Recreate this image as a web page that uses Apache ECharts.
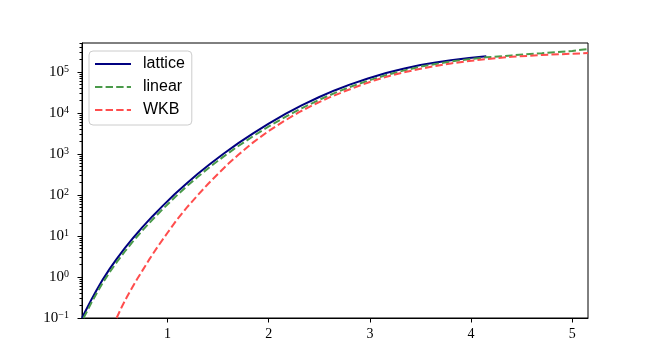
<!DOCTYPE html>
<html lang="en">
<head>
    <meta charset="UTF-8">
    <title>lattice vs linear vs WKB</title>
    <style>
        html, body {
            margin: 0;
            padding: 0;
            background: #ffffff;
        }
    </style>
</head>
<body>
<div id="chart-canvas" style="width: 654px;height:357px;"></div>
<script src="https://cdn.jsdelivr.net/npm/echarts@6/dist/echarts.min.js"></script>
<script type="text/javascript">
    // values
    const latticeX = [0.155, 0.2, 0.25, 0.3, 0.36, 0.43, 0.5, 0.58, 0.66, 0.75, 0.85, 0.95, 1.07, 1.18, 1.3, 1.42, 1.55,
        1.7, 1.85, 2.0, 2.17, 2.33, 2.5, 2.65, 2.8, 2.98, 3.16, 3.33, 3.5, 3.65, 3.8, 3.98, 4.15];
    const latticeY = [0.1, 0.166, 0.288, 0.484, 0.865, 1.60, 2.81, 5.11, 8.95, 16.2, 30.0, 53.6, 104, 183, 329, 571, 1000,
        1840, 3240, 5510, 9600, 15500, 24600, 35500, 49200, 69700, 94400, 120000, 148000, 171000, 194000, 219000, 242000];

    const linearX = [0.17, 0.2, 0.25, 0.3, 0.36, 0.43, 0.5, 0.58, 0.66, 0.75, 0.85, 0.95, 1.07, 1.18, 1.3, 1.42, 1.55,
        1.7, 1.85, 2.0, 2.17, 2.33, 2.5, 2.65, 2.8, 2.98, 3.16, 3.33, 3.5, 3.65, 3.8, 3.98, 4.15, 4.4, 4.7, 5.0, 5.155];
    const linearY = [0.1, 0.138, 0.24, 0.403, 0.719, 1.33, 2.33, 4.25, 7.45, 13.5, 24.9, 44.6, 87.1, 155, 279, 486, 853,
        1570, 2760, 4690, 8170, 13200, 21100, 30600, 42900, 61400, 84100, 108000, 135000, 157000, 180000, 206000, 228000,
        254000, 287000, 327000, 363000];

    const wkbX = [0.497, 0.55, 0.6, 0.65, 0.7, 0.75, 0.82, 0.9, 1.0, 1.1, 1.2, 1.3, 1.4, 1.5, 1.6, 1.7, 1.85, 2.0, 2.15,
        2.3, 2.45, 2.6, 2.75, 2.9, 3.05, 3.2, 3.35, 3.5, 3.65, 3.8, 3.98, 4.15, 4.4, 4.7, 5.0, 5.155];
    const wkbY = [0.1, 0.191, 0.331, 0.55, 0.891, 1.41, 2.69, 5.37, 12.0, 26.3, 52.5, 100, 186, 331, 575, 955, 1950, 3630,
        6310, 10500, 16200, 24000, 33900, 46800, 63100, 81300, 100000, 120000, 141000, 162000, 186000, 207000, 234000,
        260000, 279000, 290000];

    const xTicks = [1, 2, 3, 4, 5];
    const yTicks = [0.1, 1, 10, 100, 1000, 10000, 100000];
    const yTickExp = ['−1', '0', '1', '2', '3', '4', '5'];
    const yMinorTicks = [];
    yTicks.forEach(t => {
        for (let k = 2; k <= 9; k++) yMinorTicks.push(t * k);
    });

    const seriesSetting = {
        names: ['lattice', 'linear', 'WKB'],
        colorList: ['#000080', '#4a9a4a', '#ff4d4d'],
        types: ['solid', [7.4, 3.2], [7.4, 3.2]],
    };

    const pairs = (xs, ys) => xs.map((x, i) => [x, ys[i]]);
    const allData = [pairs(latticeX, latticeY), pairs(linearX, linearY), pairs(wkbX, wkbY)];

    const serif = '"Liberation Serif", "DejaVu Serif", serif';

    let myChart = echarts.init(document.getElementById('chart-canvas'), null, {renderer: 'canvas'});
    myChart.setOption({
        animation: false,
        backgroundColor: '#ffffff',
        grid: {
            left: 82, right: 66, top: 43, bottom: 39,
            show: true, borderColor: '#000000', borderWidth: 1,
            backgroundColor: 'transparent'
        },
        legend: {
            data: seriesSetting.names,
            orient: 'vertical',
            left: 89, top: 51,
            itemWidth: 36, itemHeight: 16, itemGap: 7,
            padding: [5, 7, 7, 5],
            borderColor: '#cccccc', borderWidth: 1, borderRadius: 4,
            backgroundColor: 'rgba(255,255,255,0.8)',
            itemStyle: {opacity: 0},
            textStyle: {fontFamily: '"Liberation Sans", Arial, sans-serif', fontSize: 16, color: '#000', padding: [0, 0, 0, 7]}
        },
        xAxis: {
            type: 'value',
            min: 0.155, max: 5.155,
            splitLine: {show: false},
            axisLine: {show: true, onZero: false, lineStyle: {color: '#000', width: 1}},
            axisTick: {show: true, length: 4.5, customValues: xTicks, lineStyle: {color: '#000'}},
            axisLabel: {
                customValues: xTicks, margin: 9,
                fontFamily: serif, fontSize: 14, color: '#000'
            }
        },
        yAxis: [
            {
                type: 'log', logBase: 10,
                min: 0.1, max: 510000,
                splitLine: {show: false},
                axisLine: {show: true, lineStyle: {color: '#000', width: 1}},
                axisTick: {show: true, length: 4.5, customValues: yTicks, lineStyle: {color: '#000'}},
                axisLabel: {
                    customValues: yTicks, margin: 13,
                    formatter: v => {
                        const i = yTicks.findIndex(t => Math.abs(t - v) / t < 1e-6);
                        return i < 0 ? '' : '{b|10}{s|' + yTickExp[i] + '}';
                    },
                    rich: {
                        b: {fontFamily: serif, fontSize: 15, color: '#000', verticalAlign: 'bottom', lineHeight: 16},
                        s: {fontFamily: serif, fontSize: 10, color: '#000', verticalAlign: 'top', padding: [0, 0, 8, 0], lineHeight: 16}
                    }
                }
            },
            {
                type: 'log', logBase: 10,
                min: 0.1, max: 510000,
                position: 'left',
                splitLine: {show: false},
                axisLine: {show: false},
                axisTick: {show: true, length: 2.5, customValues: yMinorTicks, lineStyle: {color: '#000'}},
                axisLabel: {show: false}
            }
        ],
        series: allData.map((d, i) => ({
            name: seriesSetting.names[i],
            type: 'line',
            data: d,
            yAxisIndex: 0,
            showSymbol: false,
            symbol: 'none',
            smooth: false,
            color: seriesSetting.colorList[i],
            lineStyle: {width: 2, type: seriesSetting.types[i], color: seriesSetting.colorList[i]},
            z: 2 + i
        }))
    });
</script>
</body>
</html>
